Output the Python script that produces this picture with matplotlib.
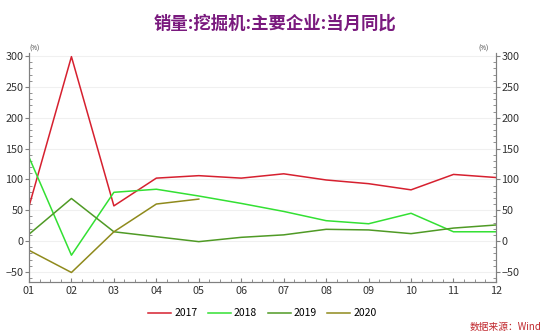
import numpy as np
import matplotlib.pyplot as plt
from matplotlib.ticker import MultipleLocator

plt.rcParams['font.family'] = ['Noto Sans CJK SC', 'DejaVu Sans']

months = ['01', '02', '03', '04', '05', '06', '07', '08', '09', '10', '11', '12']
y2017 = [56, 299, 57, 102, 106, 102, 109, 99, 93, 83, 108, 103]
y2018 = [136, -23, 79, 84, 73, 61, 48, 33, 28, 45, 15, 15]
y2019 = [11, 69, 15, 7, -1, 6, 10, 19, 18, 12, 21, 26]
y2020 = [-15, -51, 15, 60, 68]

series = [('2017', y2017, '#d6202f'),
          ('2018', y2018, '#33e033'),
          ('2019', y2019, '#4f9a25'),
          ('2020', y2020, '#8f8a1c')]

fig = plt.figure(figsize=(5.5, 3.35), dpi=100)
ax = fig.add_axes([0.0527, 0.159, 0.849, 0.683])

x = np.arange(len(months))
for name, vals, col in series:
    ax.plot(x[:len(vals)], vals, color=col, lw=1.1, label=name)

ax.set_xlim(0, len(months) - 1)
ax.set_ylim(-66, 305)
ax.set_xticks(x)
ax.set_xticklabels(months)
ax.xaxis.set_minor_locator(MultipleLocator(0.25))
ax.yaxis.set_major_locator(MultipleLocator(50))
ax.yaxis.set_minor_locator(MultipleLocator(10))
ax.grid(axis='y', color='#f0f0f0', lw=0.8)
ax.set_axisbelow(True)

ax2 = ax.twinx()
ax2.set_ylim(ax.get_ylim())
ax2.yaxis.set_major_locator(MultipleLocator(50))
ax2.yaxis.set_minor_locator(MultipleLocator(10))

for a in (ax, ax2):
    for s in a.spines.values():
        s.set_color('#808080')
    a.spines['top'].set_visible(False)
    a.tick_params(which='major', direction='out', length=3, color='#808080',
                  labelsize=7.8, labelcolor='#333333', pad=1)
    a.tick_params(which='minor', direction='in', length=2, color='#808080')
ax.tick_params(axis='x', which='major', direction='in', length=3, pad=3)

ax.text(0.0, 1.01, '(%)', transform=ax.transAxes, fontsize=4.5, color='#333333')
ax2.text(0.985, 1.01, '(%)', transform=ax.transAxes, fontsize=4.5, color='#333333', ha='right')

fig.text(0.5, 0.93, '销量:挖掘机:主要企业:当月同比', ha='center', va='center',
         fontsize=12.5, fontweight='bold', color='#7a1a7e')

ax.legend(loc='upper center', bbox_to_anchor=(0.5, -0.075), ncol=4, frameon=False,
          fontsize=7.5, handlelength=2.2, handletextpad=0.3, columnspacing=1.0)

fig.text(0.985, 0.008, '数据来源：Wind', ha='right', va='bottom', fontsize=7,
         color='#c0282e', style='italic')

fig.savefig('out.png', dpi=100)
